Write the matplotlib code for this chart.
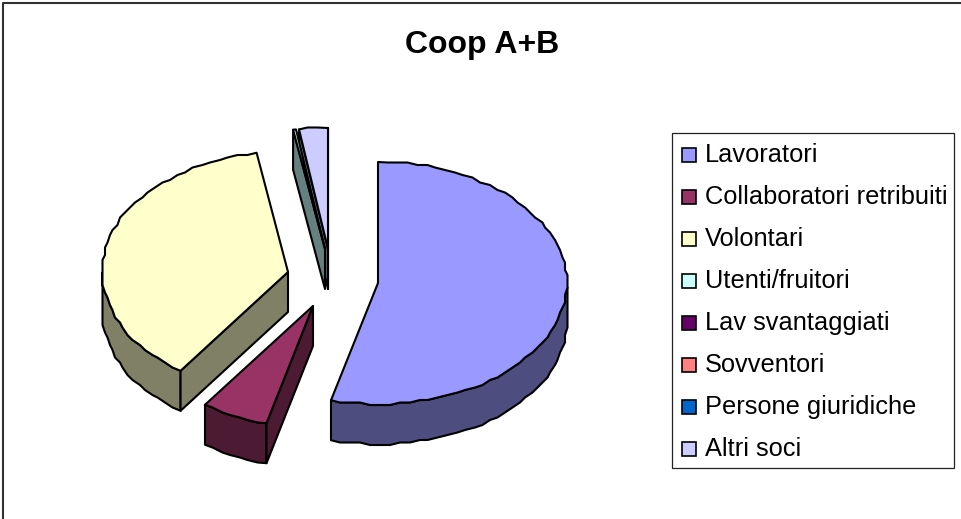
"""Coop A+B: exploded 3D pie, drawn by hand in pixel coordinates."""
import matplotlib
matplotlib.use("Agg")
import matplotlib.pyplot as plt
from matplotlib.patches import Polygon, Rectangle
import numpy as np

title = "Coop A+B"
labels = ["Lavoratori", "Collaboratori retribuiti", "Volontari", "Utenti/fruitori",
          "Lav svantaggiati", "Sovventori", "Persone giuridiche", "Altri soci"]
shares = [54.0, 5.8, 37.5, 0.25, 0.0, 0.0, 0.0, 2.45]
colors = ["#9999FF", "#993366", "#FFFFCC", "#CCFFFF",
          "#660066", "#FF8080", "#0066CC", "#CCCCFF"]

# apex of each exploded slice, on screen
apex = [(378, 283), (313, 306), (288, 272), (325, 249),
        (326, 249), (326, 249), (326, 249), (328, 249)]
radius_x = [189, 187, 186, 189, 189, 189, 189, 189]
RY, DEPTH = 121, 40
LW = 1.5
GRID = 2.5  # the source renderer snaps the rim to a coarse grid, hence the wobble

plt.rcParams["font.family"] = ["Liberation Sans", "DejaVu Sans"]
fig = plt.figure(figsize=(9.61, 5.19), dpi=100)
ax = fig.add_axes([0, 0, 1, 1])
ax.set_xlim(0, 961); ax.set_ylim(519, 0); ax.axis("off")

def dark(c):
    return tuple(v * 0.5 for v in matplotlib.colors.to_rgb(c))

def rim(i, t1, t2):
    cx, cy = apex[i]
    t = np.linspace(t1, t2, max(2, int((t2 - t1) / 3) + 2))
    rad = np.radians(t)
    pts = np.column_stack([cx + radius_x[i] * np.sin(rad), cy - RY * np.cos(rad)])
    pts[1:-1] = np.round(pts[1:-1] / GRID) * GRID
    return t, pts

def face(pts, color, z):
    ax.add_patch(Polygon(pts, closed=True, fc=color, ec="black", lw=LW,
                         joinstyle="round", zorder=z))

def draw_slice(i, t1, t2, z):
    cx, cy = apex[i]
    down = np.array([0, DEPTH])
    c = np.array([cx, cy])
    t, r = rim(i, t1, t2)
    # outer wall, only the part that faces the viewer
    front = r[(t >= 90) & (t <= 270)]
    if len(front) > 1:
        face(np.vstack([front, front[::-1] + down]), dark(colors[i]), z)
    # cut walls
    if np.sin(np.radians(t1)) < -1e-6:
        face([c, r[0], r[0] + down, c + down], dark(colors[i]), z)
    if t2 > 355:
        face([c, r[-1], r[-1] + down, c + down], dark(colors[i]), z)
    face(np.vstack([c, r]), colors[i], z + 0.5)

edges = np.concatenate([[0], np.cumsum(shares)]) / np.sum(shares) * 360
order = [7, 3, 2, 1, 0]
for z, i in enumerate(order):
    if shares[i] > 0:
        draw_slice(i, edges[i], edges[i + 1], z + 1)

# chart frame runs off the right and bottom of the picture
ax.plot([2.5, 2.5, 961], [519, 2.5, 2.5], color="#303030", lw=1.5, zorder=0)

ax.text(482, 45, title, ha="center", va="center", fontsize=23, fontweight="bold")

# legend
ax.add_patch(Rectangle((672, 133), 282, 335, fc="white", ec="#222222", lw=0.9, zorder=20))
for k, (lab, col) in enumerate(zip(labels, colors)):
    y = 155 + 42 * k
    ax.add_patch(Rectangle((682, y - 7), 14, 14, fc=col, ec="black", lw=1.2, zorder=21))
    ax.text(705, y, lab, ha="left", va="center", fontsize=18.3, color="black", zorder=21)

fig.savefig("out.png", dpi=100)
